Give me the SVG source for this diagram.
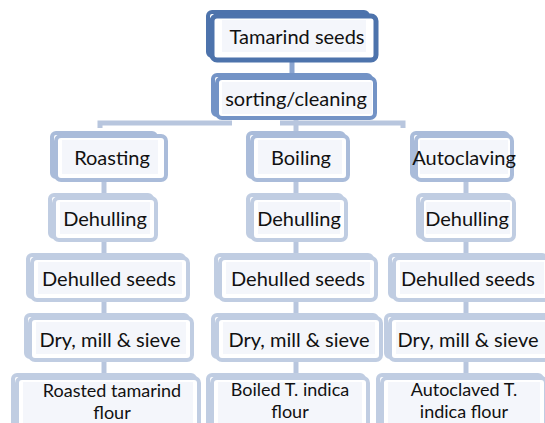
<svg xmlns="http://www.w3.org/2000/svg" width="545" height="423" viewBox="0 0 545 423">
<style>
  .t { font-family: Lato, "Open Sans", "Liberation Sans", sans-serif; font-size: 20px; fill: #111; text-anchor: middle; }
  .t2 { font-size: 18px; }
  .frame { fill: #ffffff; stroke-width: 4; }
  .ghost { fill: none; stroke-width: 4; }
  .inner { fill: #f4f6fb; stroke: none; }
  .l0 .frame, .l0 .ghost { stroke: #4d73ac; }
  .l0 .frame { stroke-width: 5; }
  .l1 .frame, .l1 .ghost { stroke: #7393c6; }
  .l2 .frame, .l2 .ghost { stroke: #aabcda; }
  .l3 .frame, .l3 .ghost { stroke: #c0cde2; }
  .con { stroke: #b8c6de; stroke-width: 5; fill: none; }
  .con0 { stroke: #8ba5d0; stroke-width: 5; fill: none; }
</style>
<g id="connectors">
  <line class="con0" x1="292" y1="60" x2="292" y2="78"/>
  <path class="con" d="M100,128 V123 H232"/>
  <path class="con" d="M280,123 H403 V128"/>
  <line class="con" x1="296" y1="118" x2="296" y2="134"/>
  <line class="con" x1="104" y1="180" x2="104" y2="196"/>
  <line class="con" x1="104" y1="240" x2="104" y2="256"/>
  <line class="con" x1="104" y1="300" x2="104" y2="316"/>
  <line class="con" x1="104" y1="360" x2="104" y2="376"/>
  <line class="con" x1="296" y1="180" x2="296" y2="196"/>
  <line class="con" x1="296" y1="240" x2="296" y2="256"/>
  <line class="con" x1="296" y1="300" x2="296" y2="316"/>
  <line class="con" x1="296" y1="360" x2="296" y2="376"/>
  <line class="con" x1="466" y1="180" x2="466" y2="196"/>
  <line class="con" x1="466" y1="240" x2="466" y2="256"/>
  <line class="con" x1="466" y1="300" x2="466" y2="316"/>
  <line class="con" x1="466" y1="360" x2="466" y2="376"/>
</g>
<g id="n-tamarind" class="l0">
  <rect class="ghost" x="208" y="12" width="160" height="44" rx="4"/>
  <rect class="frame" x="212" y="16" width="164" height="44" rx="5"/>
  <rect class="inner" x="222" y="20" width="144" height="32"/>
  <text class="t" x="297" y="44">Tamarind seeds</text>
</g>
<g id="n-sorting" class="l1">
  <rect class="ghost" x="213" y="75" width="158" height="40" rx="4"/>
  <rect class="frame" x="217" y="78" width="158" height="40" rx="5"/>
  <rect class="inner" x="222" y="82" width="150" height="32"/>
  <text class="t" x="296" y="106">sorting/cleaning</text>
</g>
<g id="n-roasting" class="l2">
  <rect class="ghost" x="52" y="133" width="104" height="44" rx="4"/>
  <rect class="frame" x="56" y="136" width="110" height="44" rx="5"/>
  <rect class="inner" x="62" y="140" width="96" height="34"/>
  <text class="t" x="112" y="165">Roasting</text>
</g>
<g id="n-boiling" class="l2">
  <rect class="ghost" x="248" y="133" width="96" height="44" rx="4"/>
  <rect class="frame" x="252" y="136" width="96" height="44" rx="5"/>
  <rect class="inner" x="258" y="140" width="84" height="34"/>
  <text class="t" x="301" y="165">Boiling</text>
</g>
<g id="n-autoclaving" class="l2">
  <rect class="ghost" x="412" y="133" width="96" height="44" rx="4"/>
  <rect class="frame" x="416" y="136" width="96" height="44" rx="5"/>
  <rect class="inner" x="420" y="140" width="88" height="34"/>
  <text class="t" x="464" y="165">Autoclaving</text>
</g>
<g id="n-dehull1" class="l3">
  <rect class="ghost" x="50" y="195" width="102" height="42" rx="4"/>
  <rect class="frame" x="54" y="198" width="102" height="42" rx="5"/>
  <rect class="inner" x="60" y="202" width="90" height="32"/>
  <text class="t" x="105" y="226">Dehulling</text>
</g>
<g id="n-dehull2" class="l3">
  <rect class="ghost" x="248" y="195" width="94" height="42" rx="4"/>
  <rect class="frame" x="252" y="198" width="94" height="42" rx="5"/>
  <rect class="inner" x="258" y="202" width="82" height="32"/>
  <text class="t" x="299" y="226">Dehulling</text>
</g>
<g id="n-dehull3" class="l3">
  <rect class="ghost" x="418" y="195" width="92" height="42" rx="4"/>
  <rect class="frame" x="422" y="198" width="92" height="42" rx="5"/>
  <rect class="inner" x="426" y="202" width="84" height="32"/>
  <text class="t" x="467" y="226">Dehulling</text>
</g>
<g id="n-seeds1" class="l3">
  <rect class="ghost" x="28" y="255" width="156" height="42" rx="4"/>
  <rect class="frame" x="32" y="258" width="156" height="42" rx="5"/>
  <rect class="inner" x="38" y="262" width="144" height="32"/>
  <text class="t" x="109" y="286">Dehulled seeds</text>
</g>
<g id="n-seeds2" class="l3">
  <rect class="ghost" x="216" y="255" width="156" height="42" rx="4"/>
  <rect class="frame" x="220" y="258" width="156" height="42" rx="5"/>
  <rect class="inner" x="226" y="262" width="144" height="32"/>
  <text class="t" x="298" y="286">Dehulled seeds</text>
</g>
<g id="n-seeds3" class="l3">
  <rect class="ghost" x="390" y="255" width="156" height="42" rx="4"/>
  <rect class="frame" x="394" y="258" width="156" height="42" rx="5"/>
  <rect class="inner" x="400" y="262" width="144" height="32"/>
  <text class="t" x="468" y="286">Dehulled seeds</text>
</g>
<g id="n-dry1" class="l3">
  <rect class="ghost" x="26" y="315" width="162" height="42" rx="4"/>
  <rect class="frame" x="30" y="318" width="162" height="42" rx="5"/>
  <rect class="inner" x="36" y="322" width="150" height="32"/>
  <text class="t" x="110" y="347">Dry, mill &amp; sieve</text>
</g>
<g id="n-dry2" class="l3">
  <rect class="ghost" x="213" y="315" width="164" height="42" rx="4"/>
  <rect class="frame" x="217" y="318" width="164" height="42" rx="5"/>
  <rect class="inner" x="223" y="322" width="152" height="32"/>
  <text class="t" x="299" y="347">Dry, mill &amp; sieve</text>
</g>
<g id="n-dry3" class="l3">
  <rect class="ghost" x="386" y="315" width="164" height="42" rx="4"/>
  <rect class="frame" x="390" y="318" width="164" height="42" rx="5"/>
  <rect class="inner" x="396" y="322" width="152" height="32"/>
  <text class="t" x="468" y="347">Dry, mill &amp; sieve</text>
</g>
<g id="n-flour1" class="l3">
  <rect class="ghost" x="13" y="375" width="182" height="56" rx="4"/>
  <rect class="frame" x="17" y="378" width="182" height="56" rx="5"/>
  <rect class="inner" x="23" y="382" width="170" height="44"/>
  <text class="t t2" x="112" y="397"><tspan x="112">Roasted tamarind</tspan><tspan x="112" dy="22">flour</tspan></text>
</g>
<g id="n-flour2" class="l3">
  <rect class="ghost" x="208" y="375" width="156" height="56" rx="4"/>
  <rect class="frame" x="212" y="378" width="156" height="56" rx="5"/>
  <rect class="inner" x="218" y="382" width="144" height="44"/>
  <text class="t t2" x="290" y="396"><tspan x="290">Boiled T. indica</tspan><tspan x="290" dy="22">flour</tspan></text>
</g>
<g id="n-flour3" class="l3">
  <rect class="ghost" x="378" y="375" width="164" height="56" rx="4"/>
  <rect class="frame" x="382" y="378" width="164" height="56" rx="5"/>
  <rect class="inner" x="388" y="382" width="152" height="44"/>
  <text class="t t2" x="464" y="396"><tspan x="464">Autoclaved T.</tspan><tspan x="464" dy="22">indica flour</tspan></text>
</g>
</svg>
